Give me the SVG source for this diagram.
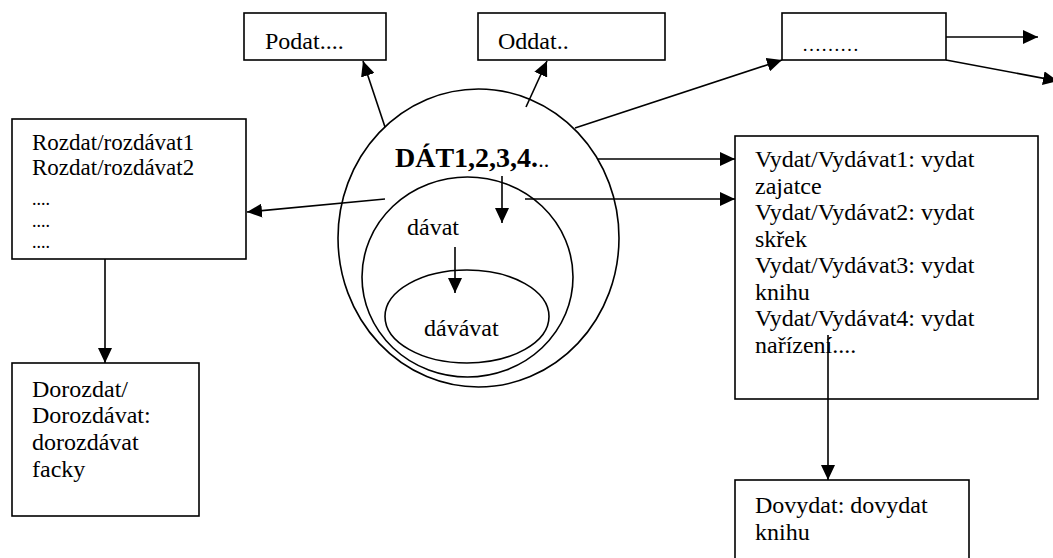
<svg xmlns="http://www.w3.org/2000/svg" width="1053" height="558" viewBox="0 0 1053 558">
<style>
.box{fill:#fff;stroke:#000;stroke-width:1.6}
.ell{fill:none;stroke:#000;stroke-width:1.6}
.t{font-family:"Liberation Serif","Times New Roman",serif;font-size:24px;fill:#000}
.r{font-size:23px}
.d{font-size:18px}
.c{stroke:#000;stroke-width:1.6;fill:none}
.a{marker-end:url(#ah)}
</style>
<defs>
<marker id="ah" markerUnits="userSpaceOnUse" markerWidth="16" markerHeight="14" refX="15" refY="7" orient="auto">
<path d="M0,0 L15,7 L0,14 Z" fill="#000"/>
</marker>
</defs>
<rect width="1053" height="558" fill="#fff"/>
<g id="dat">
<ellipse class="ell" cx="478.5" cy="238" rx="140.5" ry="149"/>
<text class="t" x="395" y="167" style="font-weight:bold;font-size:28px">DÁT1,2,3,4.<tspan style="font-weight:normal;font-size:22px">..</tspan></text>
</g>
<g id="davat">
<ellipse class="ell" cx="467.5" cy="277" rx="105.5" ry="100"/>
<text class="t" x="407" y="235">dávat</text>
</g>
<g id="davavat">
<ellipse class="ell" cx="467" cy="316.5" rx="82" ry="46.5"/>
<text class="t" x="424" y="336">dávávat</text>
</g>
<g id="podat">
<rect class="box" x="244" y="13" width="142" height="47"/>
<text class="t" x="265" y="49">Podat....</text>
</g>
<g id="oddat">
<rect class="box" x="478" y="13" width="187" height="47"/>
<text class="t" x="498" y="49">Oddat..</text>
</g>
<g id="other">
<rect class="box" x="782" y="13" width="164" height="47"/>
<text class="t" x="802" y="51" style="font-size:19px">………</text>
</g>
<g id="rozdat">
<rect class="box" x="12" y="119" width="234" height="140"/>
<text class="t r" x="32" y="150">Rozdat/rozdávat1</text>
<text class="t r" x="32" y="175">Rozdat/rozdávat2</text>
<text class="t d" x="32" y="205">....</text>
<text class="t d" x="32" y="227">....</text>
<text class="t d" x="32" y="248">....</text>
</g>
<g id="dorozdat">
<rect class="box" x="12" y="363" width="187" height="153"/>
<text class="t" x="32" y="397">Dorozdat/</text>
<text class="t" x="32" y="423">Dorozdávat:</text>
<text class="t" x="32" y="450">dorozdávat</text>
<text class="t" x="32" y="477">facky</text>
</g>
<g id="vydat">
<rect class="box" x="735" y="136" width="303" height="263"/>
<text class="t" x="755" y="167">Vydat/Vydávat1: vydat</text>
<text class="t" x="755" y="193.5">zajatce</text>
<text class="t" x="755" y="220">Vydat/Vydávat2: vydat</text>
<text class="t" x="755" y="246.5">skřek</text>
<text class="t" x="755" y="273">Vydat/Vydávat3: vydat</text>
<text class="t" x="755" y="299.5">knihu</text>
<text class="t" x="755" y="326">Vydat/Vydávat4: vydat</text>
<text class="t" x="755" y="352.5">nařízení....</text>
</g>
<g id="dovydat">
<rect class="box" x="735" y="480" width="234" height="90"/>
<text class="t" x="755" y="513">Dovydat: dovydat</text>
<text class="t" x="755" y="540">knihu</text>
</g>
<g id="connectors">
<line class="c a" x1="385" y1="127" x2="363" y2="61"/>
<line class="c a" x1="526" y1="107" x2="547" y2="61"/>
<line class="c a" x1="575" y1="128" x2="782" y2="60"/>
<line class="c a" x1="946" y1="37" x2="1038" y2="37"/>
<line class="c a" x1="946" y1="60" x2="1058" y2="81"/>
<line class="c a" x1="385" y1="199" x2="247" y2="212"/>
<line class="c a" x1="105" y1="259" x2="105" y2="363"/>
<line class="c a" x1="597" y1="159" x2="735" y2="159"/>
<line class="c a" x1="525" y1="199" x2="735" y2="199"/>
<line class="c a" x1="502" y1="176" x2="502" y2="223"/>
<line class="c a" x1="455" y1="247" x2="455" y2="293"/>
<line class="c a" x1="828" y1="335" x2="828" y2="480"/>
</g>
</svg>
